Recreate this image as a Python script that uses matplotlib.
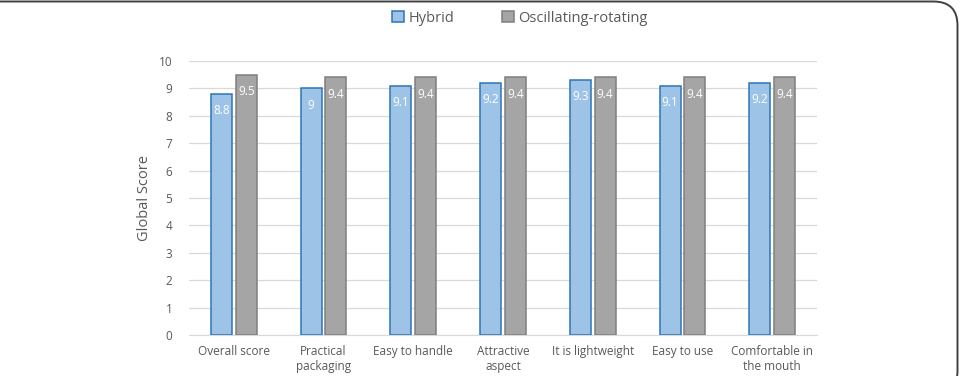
import matplotlib
matplotlib.use("Agg")
import matplotlib.pyplot as plt
import numpy as np
from matplotlib.patches import FancyBboxPatch

categories = ["Overall score", "Practical\npackaging", "Easy to handle", "Attractive\naspect",
              "It is lightweight", "Easy to use", "Comfortable in\nthe mouth"]
hybrid = [8.8, 9, 9.1, 9.2, 9.3, 9.1, 9.2]
osc = [9.5, 9.4, 9.4, 9.4, 9.4, 9.4, 9.4]
hybrid_labels = ["8.8", "9", "9.1", "9.2", "9.3", "9.1", "9.2"]
osc_labels = ["9.5", "9.4", "9.4", "9.4", "9.4", "9.4", "9.4"]
yticks = list(range(0, 11))

plt.rcParams['font.family'] = ['Open Sans', 'DejaVu Sans']
txt = '#595959'

fig = plt.figure(figsize=(9.61, 3.76), dpi=100)
ax = fig.add_axes([189/961, 1-335/376, (817-189)/961, (335-61)/376])

x = np.arange(len(categories))
w = 0.235
off = 0.138
b1 = ax.bar(x - off, hybrid, w, color='#9DC3E6', edgecolor='#2E75B6', linewidth=1.1, label='Hybrid', zorder=3)
b2 = ax.bar(x + off, osc, w, color='#A5A5A5', edgecolor='#7F7F7F', linewidth=1.1, label='Oscillating-rotating', zorder=3)

for bars, labs in ((b1, hybrid_labels), (b2, osc_labels)):
    for r, l in zip(bars, labs):
        ax.annotate(l, (r.get_x() + r.get_width()/2, r.get_height()), xytext=(0, -12),
                    textcoords='offset points', ha='center', va='center', color='white', fontsize=8.5, zorder=4)

ax.set_xlim(-0.5, len(categories) - 0.5)
ax.set_ylim(0, 10)
ax.set_yticks(yticks)
ax.set_xticks(x)
ax.set_xticklabels(categories, fontsize=8.5, color=txt, linespacing=1.25)
ax.tick_params(axis='y', labelsize=8.5, colors=txt, length=0, pad=12)
ax.tick_params(axis='x', length=0, pad=7)
ax.grid(axis='y', color='#D9D9D9', linewidth=0.9, zorder=0)
for s in ['top', 'right', 'left']:
    ax.spines[s].set_visible(False)
ax.spines['bottom'].set_color('#D9D9D9')
ax.set_ylabel('Global Score', fontsize=10.5, color=txt, labelpad=5)

leg = fig.legend(handles=[b1, b2], loc='center', bbox_to_anchor=(520/961, 1-18/376), ncol=2,
                 frameon=False, fontsize=10.5, handlelength=0.8, handleheight=0.8,
                 handletextpad=0.3, columnspacing=3.3)
for t in leg.get_texts():
    t.set_color(txt)

# cropped rounded border at top and right
border = FancyBboxPatch((-0.05, -0.05), 0.05 + 957.5/961, 0.05 + 1 - 1.5/376,
                        boxstyle='round,pad=0,rounding_size=0.025', transform=fig.transFigure,
                        fill=False, edgecolor='#404040', linewidth=1.4, mutation_aspect=961/376)
fig.patches.append(border)

fig.savefig('out.png', dpi=100)
